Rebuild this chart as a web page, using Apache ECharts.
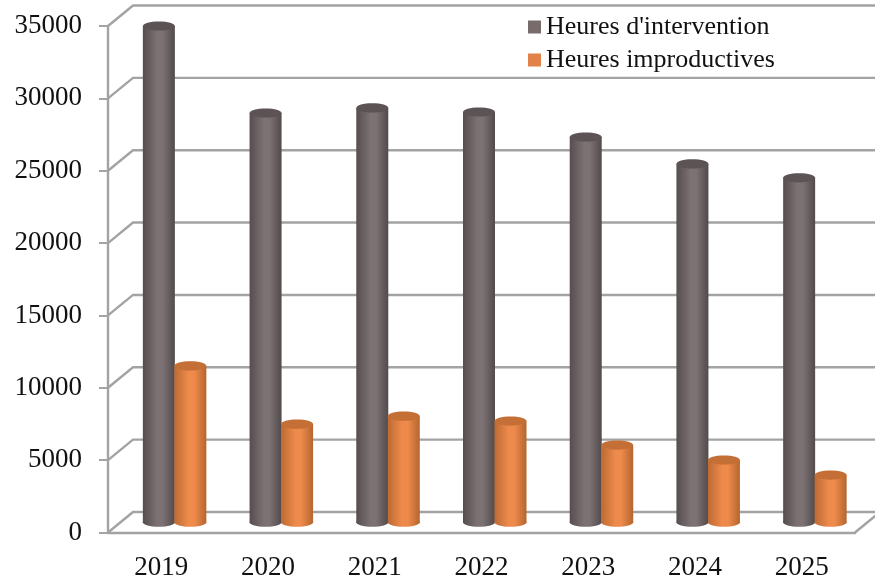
<!DOCTYPE html>
<html lang="fr">

<head>
  <meta charset="UTF-8">
  <title>Heures d'intervention</title>
  <script src="https://cdn.jsdelivr.net/npm/echarts@6/dist/echarts.min.js"></script>
  <style>
    body { margin: 0; background: #fff; }
    #chart { width: 875px; height: 577px; }
  </style>
</head>

<body>
  <div id="chart"></div>

  <script>
    const years = ['2019', '2020', '2021', '2022', '2023', '2024', '2025'];
    const interventionHours = [34290, 28280, 28630, 28350, 26620, 24760, 23800];
    const improductiveHours = [10800, 6780, 7330, 6990, 5330, 4300, 3260];
    const gridValues = [0, 5000, 10000, 15000, 20000, 25000, 30000, 35000];

    const fontName = '"Liberation Serif"';
    const lineColor = '#a3a3a3';
    // 3D wall offset, in pixels
    const depthX = 25;
    const depthY = 20.5;

    // back wall lines and left side diagonals
    function renderWalls(params, api) {
      const box = params.coordSys;
      const p = api.coord([0, api.value(0)]);
      const y = p[1];
      const style = { stroke: lineColor, lineWidth: 2.4, fill: null };
      const children = [
        { type: 'polyline', shape: { points: [[box.x, y], [box.x + depthX, y - depthY], [box.x + box.width + depthX, y - depthY]] }, style: style }
      ];
      if (params.dataIndex === 0) {
        children.push({ type: 'line', shape: { x1: box.x + box.width, y1: y, x2: box.x + box.width + depthX, y2: y - depthY }, style: style });
      }
      return { type: 'group', children: children };
    }

    function cylinder(side, edge, mid, dark, top) {
      return function (params, api) {
        const p = api.coord([api.value(0), api.value(1)]);
        const base = api.coord([api.value(0), 0]);
        const w = 32;
        const ry = 4.6;
        const x = p[0] + depthX / 2 + 1 + (side < 0 ? -w : -0.5);
        const cx = x + w / 2;
        const yTop = p[1] - depthY / 2;
        const yBase = base[1] - depthY / 2;
        const fill = {
          type: 'linear', x: 0, y: 0, x2: 1, y2: 0,
          colorStops: [
            { offset: 0, color: edge },
            { offset: 0.45, color: mid },
            { offset: 0.62, color: mid },
            { offset: 1, color: dark }
          ]
        };
        return {
          type: 'group',
          children: [
            { type: 'ellipse', shape: { cx: cx, cy: yBase, rx: w / 2, ry: ry }, style: { fill: fill } },
            { type: 'rect', shape: { x: x, y: yTop, width: w, height: yBase - yTop }, style: { fill: fill } },
            { type: 'ellipse', shape: { cx: cx, cy: yTop, rx: w / 2, ry: ry }, style: { fill: top } }
          ]
        };
      };
    }

    const chart = echarts.init(document.getElementById('chart'));
    chart.setOption({
      animation: false,
      grid: { left: 108, right: 20, top: 26, bottom: 44.5, outerBoundsMode: 'none' },
      legend: {
        left: 523,
        top: 9,
        orient: 'vertical',
        icon: 'rect',
        itemWidth: 13,
        itemHeight: 13,
        itemGap: 7,
        data: ["Heures d'intervention", 'Heures improductives'],
        textStyle: { fontFamily: fontName, fontSize: 26, color: '#111' }
      },
      xAxis: {
        type: 'category',
        data: years,
        axisLine: { lineStyle: { color: lineColor, width: 2.4 } },
        axisTick: { length: 8, lineStyle: { color: lineColor, width: 2 } },
        axisLabel: { margin: 22, fontFamily: fontName, fontSize: 27, color: '#111' }
      },
      yAxis: {
        type: 'value',
        min: 0,
        max: 35000,
        interval: 5000,
        splitLine: { show: false },
        axisLine: { show: true, lineStyle: { color: lineColor, width: 2.4 } },
        axisTick: { show: true, length: 9, lineStyle: { color: lineColor, width: 2 } },
        axisLabel: { margin: 26, padding: [4, 0, 0, 0], fontFamily: fontName, fontSize: 27, color: '#111', formatter: v => String(v) }
      },
      series: [
        {
          type: 'custom',
          silent: true,
          z: 1,
          renderItem: renderWalls,
          encode: { y: 0 },
          data: gridValues.map(v => [v])
        },
        {
          name: "Heures d'intervention",
          type: 'custom',
          z: 2,
          itemStyle: { color: '#776b6c' },
          renderItem: cylinder(-1, '#564d4e', '#7c7273', '#524a4b', '#5c5354'),
          encode: { x: 0, y: 1 },
          data: years.map((y, i) => [i, interventionHours[i]])
        },
        {
          name: 'Heures improductives',
          type: 'custom',
          z: 3,
          itemStyle: { color: '#e0824a' },
          renderItem: cylinder(1, '#bd6a33', '#ee8b4c', '#b5652f', '#c46f36'),
          encode: { x: 0, y: 1 },
          data: years.map((y, i) => [i, improductiveHours[i]])
        }
      ]
    });
  </script>
</body>
</html>
